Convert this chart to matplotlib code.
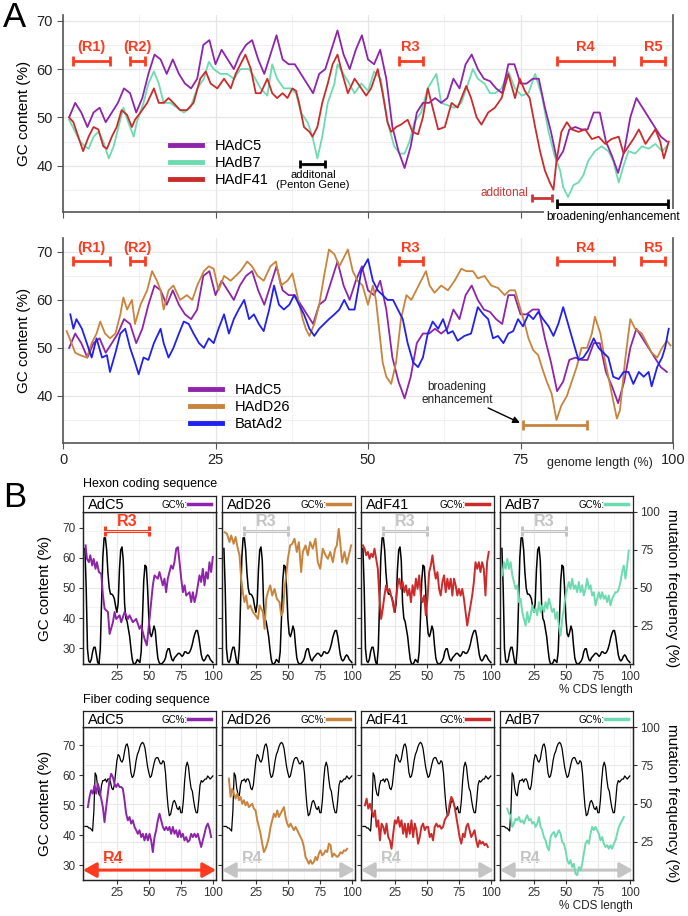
import numpy as np
import matplotlib.pyplot as plt
from matplotlib.lines import Line2D
from matplotlib.ticker import FixedLocator

plt.rcParams['font.family'] = ['Liberation Sans', 'DejaVu Sans']

PURPLE = '#8e24aa'
GREEN = '#6ddbb0'
RED = '#cc2b2b'
BROWN = '#c8843c'
BLUE = '#2020f0'
RMARK = '#ff3a1f'
GREYMARK = '#c4c4c4'

# ---------------- panel A data (genome length %, GC %) ----------------
gc_c5 = [50, 53, 51, 48, 51, 52, 49, 51, 53, 56,
         55, 51, 54, 59, 63, 62, 59, 62, 59, 57,
         56, 58, 65, 66, 61, 64, 62, 60, 63, 65,
         66, 62, 59, 63, 67, 62, 61, 61, 59, 57,
         55, 59, 60, 64, 68, 63, 60, 64, 67, 62,
         61, 64, 58, 48, 43, 39.5, 44, 51, 53, 53,
         54, 53, 54, 58, 56, 61, 63, 60, 58, 57.5,
         56, 55, 61, 61, 57, 57, 58, 58, 52, 47,
         41, 43, 47.5, 48, 47.5, 47.5, 51, 51, 45, 42,
         38.5, 43, 50, 54, 52, 50, 48, 46, 45]
pos_c5 = np.arange(1, len(gc_c5) + 1)

pos_b7 = [1, 2, 2.8, 3.6, 4.2, 5, 5.8, 6.6, 7.5, 8.3, 9.1, 9.9, 10.7, 11.6, 12.1, 13.2, 14, 14.9, 15.7,
          16.5, 17.6, 18.7, 19.8, 20.9, 22, 23.1, 23.9, 24.7, 25.8, 26.9, 28, 29.1, 30.5, 31.3, 32.4,
          33.5, 34.3, 35.1, 36.2, 37.3, 38.2, 39, 40.1, 40.9, 41.7, 42.5, 43.4, 44.5, 45,
          46.7, 47.8, 48.9, 50, 51, 52.1, 53.2, 54.3, 55.2, 56, 56.8, 57.6, 58.7, 59.8, 61.2, 62,
          63.1, 64.2, 65.3, 66.4, 67.2, 68, 69.1, 70, 70.8, 71.9, 73, 74.1, 75.2, 76.3, 77.4, 78.5,
          79.6, 80.6, 81.5, 82, 82.8, 83.7, 84.5, 85.3, 86.1, 87.2, 88.3, 89.4, 90.2, 91.1, 91.9,
          92.7, 93.8, 94.9, 96, 97.1, 98.2, 99]
gc_b7 = [49.5, 47, 45, 44, 43.5, 46, 47, 45, 41.5, 44, 48, 52, 49, 46, 49, 53, 57, 59.5, 57,
         53, 53, 52, 51, 52, 56, 58, 61.5, 60, 59, 59, 58, 60, 60, 58.5, 56,
         54.5, 61, 58, 56, 56, 55, 51, 49, 46, 41.5, 46, 53, 57, 61,
         57.5, 55, 57, 55.5, 59.5, 58, 49, 44, 42.5, 42.5, 45, 49, 51, 56, 59, 53,
         52.5, 52, 53, 57, 60, 58, 57, 55, 55, 56, 59.5, 56, 54.5, 55, 59, 54.5,
         47, 42, 39, 35.5, 33.5, 36, 36.5, 38, 41, 43, 44, 43, 41, 36.5, 40,
         43, 42.5, 44, 43.5, 44.5, 43, 44]

pos_f41 = [1, 1.7, 2.5, 3.3, 4.2, 5, 5.8, 6.6, 7.2, 8, 8.8, 9.6, 10.5, 11.3, 11.8, 12.7, 13.8, 14.9,
           15.7, 16.5, 17.3, 18.1, 19.2, 20.3, 21.4, 22.5, 23.4, 24.2, 25.3, 26.4, 27.5, 28.3, 29.1,
           29.9, 30.8, 31.6, 32.4, 33.5, 34.3, 35.1, 36, 36.8, 37.6, 38.2, 38.7, 39.5, 40.4, 40.9,
           41.7, 42.5, 43.4, 44.2, 45, 45.8, 46.7, 47.8, 48.9, 49.7, 50.5, 51.6, 52.4, 53.2, 53.8,
           54.6, 55.4, 56.5, 57.3, 58.2, 59, 59.8, 60.6, 61.5, 62.6, 63.7, 64.7, 66.1, 66.9, 67.8,
           68.6, 69.7, 70.8, 71.9, 73, 74.1, 74.9, 75.7, 76.5, 77.4, 78.2, 79, 79.8, 80.4, 80.9,
           81.7, 82.6, 83.4, 84.5, 85.6, 86.7, 87.8, 88.9, 89.9, 91.1, 91.9, 92.7, 93.5, 94.4,
           95.5, 96.3, 97.1, 97.9, 98.5, 99.3]
gc_f41 = [50, 49, 46, 43, 46, 48, 47.5, 44, 43.5, 46, 48, 51.5, 50.5, 48, 49.5, 51, 53, 56,
          53, 53, 54, 53, 51.5, 51.5, 53, 58, 59.5, 57, 56, 58, 56, 59, 61,
          63, 60, 55, 55, 58, 55, 54, 55, 54, 56, 55.5, 53, 48, 47, 46,
          48, 53, 57, 61, 63, 59, 55, 58, 56, 54.5, 56, 60, 55, 49, 47,
          48, 48.5, 49.5, 47, 46.5, 50, 56, 52, 47.5, 48, 53, 52, 56.5, 54, 50,
          48.5, 51, 52, 54, 59, 54, 58, 55.5, 54, 48, 43, 39, 36.5, 35, 41,
          47, 49, 47.5, 47, 47.5, 45.5, 46, 44.5, 45.5, 46, 42.5, 44, 45.5, 47.5,
          44.5, 46, 47.5, 45, 41.5, 45]

pos_d26 = [0.6, 1.4, 2, 2.8, 3.9, 4.7, 5.5, 6.1, 6.9, 7.7, 8.6, 9.4, 9.9, 10.5, 11.3, 11.8, 12.7,
           13.8, 14.6, 15.4, 16, 16.5, 17.3, 18.1, 19.2, 20.3, 21.2, 22, 23.1, 23.9, 24.7, 25.5,
           26.4, 27.5, 28.3, 29.1, 30.2, 31, 31.9, 32.9, 34, 34.9, 35.7, 36.8, 37.6, 38.4, 39.3,
           39.8, 40.4, 41.2, 42, 42.8, 43.6, 44.5, 45.3, 46.1, 46.7, 47.5, 48.3, 49.1, 50, 50.8,
           51.3, 51.9, 52.4, 53, 53.8, 54.6, 55.4, 56.3, 57.1, 57.9, 58.7, 59.5, 60.1, 60.9, 62,
           63.1, 64.2, 65.3, 66.1, 67.2, 68, 69.1, 70.2, 71.3, 72.4, 73.2, 74.1, 74.9, 75.7, 76.3,
           77.1, 77.9, 78.5, 79.3, 80.1, 80.9, 81.7, 82.6, 83.4, 84.2, 85, 85.9, 86.7, 87.2, 88.1,
           88.9, 89.4, 90.2, 90.8, 91.3, 92.2, 93, 93.8, 94.9, 95.7, 96.5, 97.4, 98.2, 99, 99.6]
gc_d26 = [53.5, 51, 49, 48.5, 48, 51, 53, 55.5, 53, 52, 53, 57, 60.5, 58, 60, 55, 59,
          62, 66, 64, 62, 58, 62, 63, 60, 61, 60, 63, 66, 67, 66.5, 62,
          65, 64, 65, 66, 68, 67, 65, 64, 67, 68, 63, 64, 65.5, 61, 56,
          54, 52.5, 55, 59, 65, 70.5, 69.5, 67, 69, 70.5, 66, 64, 63, 59, 63,
          60, 53, 47, 44, 42.5, 47, 56, 61, 60, 62, 64, 66, 63, 61.5, 63,
          62, 64, 66.5, 66, 66, 64.5, 65, 63, 62.5, 61, 62, 62, 58.5, 55, 52,
          49.5, 48.5, 46, 43, 40.5, 35, 38, 40, 43, 46, 50, 50, 53, 56.5, 53,
          47, 44, 39, 35.3, 37, 48, 56, 54, 53, 51, 49, 48, 50, 51.5, 50.5]

pos_bat = [1.2, 1.7, 2.2, 3.1, 3.9, 4.7, 5.5, 6.4, 7.2, 7.7, 8.6, 9.4, 10.2, 11, 11.8, 12.4, 13.2,
           14, 14.9, 16, 16.5, 17.3, 18.1, 19, 19.8, 20.6, 21.4, 22.3, 23.1, 23.9, 24.7, 25.5,
           26.4, 27.2, 28, 28.8, 29.7, 30.5, 31.3, 32.1, 32.9, 33.8, 34.6, 35.4, 36.2, 37.1, 37.9,
           38.7, 39.5, 40.4, 41.2, 42, 42.8, 43.6, 44.5, 45.3, 46.1, 46.9, 47.8, 48.9, 50, 50.8,
           51.6, 52.4, 53.2, 54.1, 54.9, 55.7, 56.5, 57.4, 58.2, 59, 59.8, 60.6, 61.5, 62.3, 63.1,
           63.9, 64.7, 65.8, 66.9, 68, 68.9, 69.7, 70.5, 71.3, 72.2, 73, 73.8, 74.6, 75.4, 76.3,
           77.1, 77.9, 78.7, 79.6, 80.4, 81.2, 82, 82.8, 83.7, 84.5, 85.3, 86.1, 87, 87.8, 88.6,
           89.4, 90.2, 91.1, 91.9, 92.7, 93.5, 94.4, 95.2, 96, 96.5, 97.4, 98.2, 98.7, 99.3]
gc_bat = [57, 54, 56, 54, 51, 48, 52, 48, 48.5, 45, 49, 53, 54, 50, 47, 44.5, 48,
          47.5, 51, 54, 51, 48, 50, 53, 55.5, 55, 53, 51, 50, 52, 51, 54,
          57, 53, 56, 58, 60, 56, 57, 55, 53.5, 58, 63, 59, 58, 59, 61,
          59, 57, 54, 52.5, 54, 55, 56, 57, 58, 60, 58, 58, 66, 68.5, 64,
          62, 61, 60, 60, 58, 56, 51, 47, 46, 48, 53, 55.5, 54, 56, 53,
          53.5, 51.5, 52.5, 53, 58.5, 57, 56, 52, 52.5, 51, 53, 53.5, 56, 54.5, 57,
          56, 57.5, 56, 54.5, 52.5, 55, 58.5, 55, 51, 47.5, 48, 49.5, 52, 50, 49,
          48, 44, 43.5, 45, 45, 42.5, 45, 44, 45, 42, 46, 48, 50, 54]

# regions (genome %)
region_names = ['(R1)', '(R2)', 'R3', 'R4', 'R5']
region_start = [1.6, 11.0, 55.0, 81.0, 94.7]
region_end = [7.7, 13.5, 59.0, 90.3, 98.7]

# ---------------- panel B data (% CDS length) ----------------
mut_pos = np.arange(0, 101)
mut_hexon = [76, 50, 10, 2, 1, 3, 8, 11, 11, 6,
             1, 0, 10, 40, 70, 83, 83, 75, 60, 50,
             46, 46, 45, 43, 38, 34, 40, 62, 75, 77,
             68, 40, 30, 28, 23, 18, 10, 3, 0, 0,
             1, 3, 2, 1, 8, 30, 55, 65, 64, 50,
             30, 20, 18, 21, 25, 22, 12, 4, 1, 0,
             0, 1, 2, 4, 8, 10, 10, 6, 3, 2,
             4, 5, 6, 7, 7, 6, 5, 6, 8, 8,
             7, 7, 8, 10, 13, 17, 20, 22, 22, 18,
             12, 6, 3, 2, 3, 5, 6, 5, 3, 2,
             1]
mut_fiber = [35, 35, 35, 34, 34, 33, 32, 45, 70, 68,
             60, 56, 55, 62, 65, 65, 66, 64, 66, 66,
             64, 60, 59, 62, 70, 78, 82, 81, 78, 77,
             79, 84, 88, 89, 86, 78, 70, 67, 68, 72,
             78, 82, 84, 87, 89, 90, 89, 86, 80, 74,
             70, 67, 68, 72, 76, 79, 80, 80, 78, 76,
             76, 78, 77, 70, 58, 48, 42, 43, 47, 51,
             52, 50, 47, 46, 48, 44, 44, 52, 65, 74,
             77, 74, 66, 60, 58, 52, 47, 44, 44, 52,
             62, 65, 64, 65, 66, 66, 68, 67, 66, 67,
             68]

hex_c5_x = [0.5, 1.6, 3.1, 4.2, 5.7, 6.8, 8.3, 9.4, 10.9, 12.8, 14.1, 15.4, 18, 19.3, 21.9, 23.2,
            24.5, 27.1, 28.4, 31, 33.6, 34.9, 37.5, 40.1, 42.7, 44, 46.6, 48.4, 50.5, 51.8, 53.1,
            54.4, 57, 58.3, 60.9, 62.2, 63.5, 64.8, 66.1, 67.4, 68.8, 70, 71.4, 72.7, 74, 75.3,
            76.6, 77.9, 79.2, 81.8, 83.1, 84.4, 85.7, 87, 89.6, 90.9, 92.2, 93.5, 94.8, 96.1,
            97.4, 98.7, 100]
hex_c5_y = [64.2, 59.7, 58.6, 60.9, 57.5, 59.7, 56.4, 58.6, 55.3, 54.7, 47.5, 43.1, 42, 34.7,
            38.6, 42, 39.7, 40.9, 38.6, 42, 39.7, 40.9, 38.6, 39.7, 36.4, 37.5, 33.1, 30.9, 39.7,
            45.3, 50.9, 54.2, 53.1, 55.3, 50.9, 53.1, 48.6, 53.1, 55.3, 57.5, 56.4, 58.6, 63.1,
            63.6, 58.6, 53.1, 48.6, 50.9, 47.5, 48.6, 45.3, 48.6, 45.3, 47.5, 54.2, 52, 56.4,
            50.9, 55.3, 53.1, 58.6, 55.3, 60.3]
hex_d26_x = [0.5, 2.3, 4.4, 5.7, 7.6, 9.1, 10.9, 12.2, 13.5, 14.8, 16.1, 17.4, 18.8, 20.6, 22.7,
             24.7, 26.6, 27.9, 30.5, 31.8, 33.1, 34.4, 36.2, 37.8, 39.6, 41.4, 43.5, 44.8, 46.1,
             47.4, 48.7, 50, 51.8, 53.4, 55.2, 57, 58.6, 60.4, 61.7, 63.8, 65.6, 67.4, 69.5, 71.6,
             73.4, 75.3, 77.3, 79.4, 81.3, 83.1, 85.2, 87, 88.3, 89.8, 90.9, 92.4, 94.3, 96.1,
             97.7, 99.5]
hex_d26_y = [68.6, 68.1, 65.3, 67.5, 64.7, 67, 63.1, 60.9, 53.1, 48.6, 45.3, 47.5, 43.1, 44.2, 42,
             40.9, 39.7, 44.2, 42, 36.4, 46.4, 48.6, 50.9, 47.5, 49.7, 46.4, 45.3, 40.9, 42, 49.7,
             54.2, 59.7, 64.2, 64.7, 66.4, 62, 65.3, 55.3, 62, 64.2, 60.9, 65.3, 63.1, 66.4, 58.6,
             56.4, 63.1, 60.9, 59.7, 62, 58.6, 63.1, 64.2, 69.7, 65.3, 58.6, 62, 58.1, 60.9, 64.2]
# the following series were read at even steps along the CDS
hex_f41_y = [64.2, 63.1, 60.9, 62, 59.7, 61.4, 60.3, 63.1, 59.7, 56.4, 46.4, 39.7, 43.1, 47.5, 50.9,
             48.6, 49.7, 47.5, 45.3, 42, 46.4, 50.9, 53.1, 49.7, 52, 48.6, 50.9, 47.5, 49.7, 45.3,
             50.9, 47.5, 53.1, 49.7, 54.2, 47.5, 45.3, 47.5, 40.9, 46.4, 55.3, 57.5, 60.9, 56.4,
             53.1, 55.3, 49.7, 47.5, 52, 54.2, 48.6, 53.1, 49.7, 53.1, 47.5, 53.1, 50.9, 47.5,
             49.7, 47.5, 49.7, 46.4, 42, 37.5, 40.9, 44.2, 47.5, 52, 58.6, 56.4, 58.6, 55.3, 58.6,
             56.4, 47.5, 58.6, 62]
hex_f41_x = np.linspace(0, 98.4, len(hex_f41_y))
hex_b7_y = [54.2, 58.6, 56.4, 59.7, 56.4, 58.6, 54.2, 52, 49.7, 50.9, 45.3, 46.4, 42, 39.7, 37.5,
            42, 38.6, 40.9, 44.2, 42, 43.1, 40.9, 45.3, 42, 44.2, 42, 45.3, 43.1, 46.4, 44.2, 42,
            43.1, 39.7, 42, 37.5, 34.2, 39.7, 43.1, 47.5, 49.7, 52, 49.7, 53.1, 49.7, 50.9, 48.6,
            52, 48.6, 50.9, 47.5, 49.7, 53.1, 49.7, 50.9, 47.5, 48.6, 44.2, 46.4, 48.6, 46.4, 48.6,
            46.4, 47.5, 45.3, 47.5, 44.2, 46.4, 47.5, 48.6, 48.6, 49.7, 52, 55.3, 57.5, 53.1, 57.5,
            62.5]
hex_b7_x = np.linspace(0.3, 99.2, len(hex_b7_y))

fib_c5_y = [49.3, 52.7, 54.9, 53.8, 56.6, 53.8, 57.1, 54.9, 52.1, 49.3, 44.3, 49.3, 53.8, 58.2,
            60.4, 59.3, 57.1, 56, 57.1, 56, 56, 55.4, 51.6, 47.1, 44.9, 46, 43.8, 44.9, 42.7,
            41.6, 40.4, 41.6, 39.3, 40.4, 38.2, 40.4, 38.2, 40.4, 38.2, 34.3, 39.3, 41.6, 44.9,
            47.1, 44.9, 42.7, 41.6, 42.7, 41.6, 42.7, 40.4, 42.7, 40.4, 41.6, 39.3, 41.6, 39.3,
            40.4, 38.2, 39.3, 37.7, 38.2, 40.4, 39.3, 40.4, 39.3, 40.4, 38.2, 36, 38.2, 40.4, 42.7,
            43.8, 42.1, 39.3]
fib_c5_x = np.linspace(2.3, 98.7, len(fib_c5_y))
fib_d26_y = [58.8, 52.7, 55.4, 53.8, 52.1, 53.8, 51.6, 52.7, 50.4, 51.6, 49.9, 51, 49.3, 49.9,
             50.4, 48.8, 48.2, 44.9, 42.7, 40.4, 37.1, 34.3, 35.4, 37.1, 39.3, 42.7, 44.9, 47.1,
             46, 48.2, 46, 47.1, 48.2, 49.3, 46, 43.8, 42.7, 43.8, 42.7, 41.6, 42.7, 41.6, 40.4,
             39.3, 38.2, 36, 32.7, 31.6, 30.4, 31.6, 30.4, 31, 32.7, 31.6, 33.8, 34.9, 33.2, 33.8,
             34.9, 34.3, 37.1, 36.6, 32.7, 33.8, 33.2, 32.7, 33.2, 34.3, 33.8, 34.9, 34.7, 35.4]
fib_d26_x = np.linspace(3.9, 96.4, len(fib_d26_y))
fib_f41_y = [49.9, 52.1, 48.8, 50.4, 48.2, 46, 48.2, 42.7, 44.9, 38.2, 43.8, 42.7, 40.4, 43.8,
             39.3, 38.2, 35.4, 40.4, 44.9, 43.8, 46, 42.7, 44.9, 40.4, 43.8, 39.3, 43.8, 40.4,
             44.9, 39.3, 43.8, 41.6, 37.1, 39.3, 42.7, 43.8, 41.6, 42.7, 42.7, 39.3, 40.4, 38.2,
             42.7, 43.8, 42.7, 43.2, 42.1, 42.7, 44.9, 46, 46.6, 50.4, 52.7, 51.6, 49.3, 46, 42.7,
             39.3, 37.1, 40.4, 39.3, 42.7, 43.8, 41.6, 39.3, 40.4, 41.6, 38.2, 36, 38.2, 37.1,
             37.7, 36.6, 37.1, 36]
fib_f41_x = np.linspace(1.6, 97.7, len(fib_f41_y))
fib_b7_y = [48.8, 47.1, 46.6, 42.7, 43.8, 45.4, 44.9, 46, 44.3, 44.9, 43.8, 45.4, 46.6, 44.9,
            45.4, 43.8, 44.3, 42.7, 43.8, 46, 42.7, 41.6, 39.3, 38.2, 36, 34.9, 39.3, 40.4, 41,
            39.3, 40.4, 41.6, 40.4, 37.7, 37.1, 34.9, 31.6, 30.4, 31.6, 29.3, 30.4, 27.1, 26.6,
            29.3, 28.2, 30.4, 33.8, 37.1, 38.2, 37.1, 40.4, 42.7, 41.6, 42.7, 41.6, 40.4, 38.2,
            39.3, 37.1, 36, 36.6, 35.4, 36.6, 35.4, 37.1, 38.2, 40.4, 42.7, 43.8, 44.9, 46]
fib_b7_x = np.linspace(4.2, 95.3, len(fib_b7_y))

facet_names = ['AdC5', 'AdD26', 'AdF41', 'AdB7']
facet_colors = [PURPLE, BROWN, RED, GREEN]

# ---------------- figure ----------------
W, H = 688, 916
fig = plt.figure(figsize=(W / 100, H / 100), dpi=100)


def box(x0, y0, x1, y1):
    return [x0 / W, 1 - y1 / H, (x1 - x0) / W, (y1 - y0) / H]


def bracket(ax, x1, x2, y, color, lw=2.0, cap=7, clip=True):
    ax.plot([x1, x2], [y, y], color=color, lw=lw, solid_capstyle='butt', clip_on=clip)
    ax.plot([x1, x2], [y, y], ls='none', marker='|', ms=cap, mew=lw, color=color, clip_on=clip)


def style_a(ax, ylim, xlabels):
    ax.set_xlim(0, 100)
    ax.set_ylim(*ylim)
    ax.set_xticks([0, 25, 50, 75, 100])
    ax.set_yticks([40, 50, 60, 70])
    ax.xaxis.set_minor_locator(FixedLocator([12.5, 37.5, 62.5, 87.5]))
    ax.yaxis.set_minor_locator(FixedLocator([35, 45, 55, 65]))
    ax.grid(which='major', color='#e6e6e6', lw=0.9)
    ax.grid(which='minor', color='#efefef', lw=0.7)
    ax.set_axisbelow(True)
    ax.spines['top'].set_visible(False)
    for s in ['left', 'bottom', 'right']:
        ax.spines[s].set_color('#555555')
        ax.spines[s].set_linewidth(1.2)
    ax.tick_params(which='minor', length=0)
    ax.tick_params(which='major', length=4, color='#555555', labelsize=10.5,
                   labelcolor='#222222', labelbottom=xlabels)


# ---- A top ----
axA = fig.add_axes(box(63, 15, 673, 212))
style_a(axA, (30.4, 71.2), False)
axA.plot(pos_b7, gc_b7, color=GREEN, lw=1.3)
axA.plot(pos_c5, gc_c5, color=PURPLE, lw=1.3)
axA.plot(pos_f41, gc_f41, color=RED, lw=1.3)
for name, a, b in zip(region_names, region_start, region_end):
    bracket(axA, a, b, 61.7, RMARK)
    axA.text((a + b) / 2, 64.6, name, color=RMARK, fontsize=10.5, fontweight='bold',
             ha='center', va='center')
hA = [Line2D([], [], color=c, lw=3.5) for c in (PURPLE, GREEN, RED)]
axA.legend(hA, ['HAdC5', 'HAdB7', 'HAdF41'], loc='center left', bbox_to_anchor=(0.175, 0.249),
           frameon=False, fontsize=10.5, handlelength=2.2, handletextpad=0.9,
           labelspacing=0.22, borderpad=0, borderaxespad=0)
bracket(axA, 38.9, 43.0, 40.4, 'black', cap=6)
axA.text(41.0, 39.2, 'additonal\n(Penton Gene)', fontsize=8, ha='center', va='top', linespacing=1.05)
axA.text(76.3, 34.4, 'additonal', fontsize=8.5, color='#c83737', ha='right', va='center')
bracket(axA, 76.9, 80.2, 33.4, '#c83737', cap=6)
bracket(axA, 81.0, 99.2, 32.0, 'black', cap=7)
axA.text(90.2, 29.3, 'broadening/enhancement', fontsize=8.5, ha='center', va='center',
         clip_on=False, bbox=dict(fc='white', ec='none', pad=1.5))
axA.set_ylabel('GC content (%)', fontsize=11, labelpad=4)

# ---- A bottom ----
axB = fig.add_axes(box(63, 238, 673, 443))
style_a(axB, (30.2, 72.9), True)
axB.plot(pos_c5, gc_c5, color=PURPLE, lw=1.3)
axB.plot(pos_d26, gc_d26, color=BROWN, lw=1.3)
axB.plot(pos_bat, gc_bat, color=BLUE, lw=1.3)
for name, a, b in zip(region_names, region_start, region_end):
    bracket(axB, a, b, 68.1, RMARK)
    axB.text((a + b) / 2, 70.9, name, color=RMARK, fontsize=10.5, fontweight='bold',
             ha='center', va='center')
hB = [Line2D([], [], color=c, lw=3.5) for c in (PURPLE, BROWN, BLUE)]
axB.legend(hB, ['HAdC5', 'HAdD26', 'BatAd2'], loc='center left', bbox_to_anchor=(0.208, 0.176),
           frameon=False, fontsize=10.5, handlelength=2.2, handletextpad=0.9,
           labelspacing=0.22, borderpad=0, borderaxespad=0)
axB.text(64.6, 40.6, 'broadening\nenhancement', fontsize=8.5, ha='center', va='center',
         linespacing=1.1, color='#222222')
axB.annotate('', xy=(74.9, 34.4), xytext=(69.7, 37.5),
             arrowprops=dict(arrowstyle='-|>', color='black', lw=1.0, shrinkA=0, shrinkB=0))
bracket(axB, 75.4, 85.9, 33.9, BROWN, cap=7)
axB.set_ylabel('GC content (%)', fontsize=11, labelpad=4)
axB.text(0.88, -0.1, 'genome length (%)', transform=axB.transAxes, fontsize=9,
         ha='center', va='center', color='#222222')

fig.text(3 / W, 1 - 1 / H, 'A', fontsize=25, va='top', ha='left')
fig.text(3 / W, 1 - 481 / H, 'B', fontsize=25, va='top', ha='left')


# ---- B facets: GC axis on the left, mutation frequency axis (with the grid) on the right ----
def facet_row(y_strip, y_top, y_bot, xs, ys, mut, ylim, kind):
    for i in range(4):
        left = 83 + i * 139
        ax = fig.add_axes(box(left, y_top, left + 133, y_bot))
        ax.set_xlim(-1.5, 102.5)
        ax.set_ylim(*ylim)
        ax.set_xticks([25, 50, 75, 100])
        ax.set_yticks([30, 40, 50, 60, 70])
        ax.xaxis.set_minor_locator(FixedLocator([12.5, 37.5, 62.5, 87.5]))
        ax.grid(axis='x', which='major', color='#e8e8e8', lw=0.8)
        ax.grid(axis='x', which='minor', color='#f1f1f1', lw=0.6)
        ax.set_axisbelow(True)
        ax.tick_params(which='minor', length=0)
        ax.tick_params(which='major', length=3, color='#333333', labelsize=8.5,
                       labelcolor='#333333', left=(i == 0), labelleft=(i == 0), pad=2)
        for s in ax.spines.values():
            s.set_color('#222222')
            s.set_linewidth(0.9)

        axm = ax.twinx()
        axm.set_ylim(0, 100)
        axm.set_yticks([25, 50, 75, 100])
        axm.yaxis.set_minor_locator(FixedLocator([12.5, 37.5, 62.5, 87.5]))
        axm.grid(axis='y', which='major', color='#e8e8e8', lw=0.8)
        axm.grid(axis='y', which='minor', color='#f1f1f1', lw=0.6)
        axm.set_axisbelow(True)
        axm.tick_params(which='minor', length=0)
        if i == 3:
            axm.tick_params(which='major', length=3, color='#333333', labelsize=8.5,
                            labelcolor='#333333', pad=2)
        else:
            axm.tick_params(which='major', right=False, labelright=False)
        for s in axm.spines.values():
            s.set_color('#222222')
            s.set_linewidth(0.9)
        axm.plot(mut_pos, mut, color='black', lw=1.1 if kind == 'hexon' else 0.9)
        axm.plot(xs[i], ys[i], color=facet_colors[i], lw=1.4, transform=ax.transData)
        axm.set_ylim(0, 100)

        col = RMARK if i == 0 else GREYMARK
        if kind == 'hexon':
            bracket(ax, 15.6, 50, 69.0, col, lw=2.2, cap=7)
            ax.text(32.8, 72.2, 'R3', color=col, fontsize=11.5, fontweight='bold',
                    ha='center', va='center')
        else:
            ax.annotate('', xy=(-1.5, 28.3), xytext=(102.5, 28.3),
                        arrowprops=dict(arrowstyle='<|-|>,head_length=0.8,head_width=0.45',
                                        color=col, lw=2.2, shrinkA=0, shrinkB=0))
            ax.text(22, 32.2, 'R4', color=col, fontsize=11.5, fontweight='bold',
                    ha='center', va='center')

        sax = fig.add_axes(box(left, y_strip, left + 133, y_top))
        sax.set_xlim(0, 1)
        sax.set_ylim(0, 1)
        sax.set_xticks([])
        sax.set_yticks([])
        for s in sax.spines.values():
            s.set_color('#222222')
            s.set_linewidth(0.9)
        sax.text(0.04, 0.45, facet_names[i], fontsize=10.5, va='center', ha='left')
        sax.text(0.785, 0.45, 'GC%:', fontsize=7, va='center', ha='right')
        sax.plot([0.79, 0.965], [0.5, 0.5], color=facet_colors[i], lw=2.5)


facet_row(496, 512, 664, [hex_c5_x, hex_d26_x, hex_f41_x, hex_b7_x],
          [hex_c5_y, hex_d26_y, hex_f41_y, hex_b7_y], mut_hexon, (24.7, 75.3), 'hexon')
facet_row(711, 727, 880, [fib_c5_x, fib_d26_x, fib_f41_x, fib_b7_x],
          [fib_c5_y, fib_d26_y, fib_f41_y, fib_b7_y], mut_fiber, (25.0, 76.0), 'fiber')

fig.text(83 / W, 1 - 490 / H, 'Hexon coding sequence', fontsize=9, va='bottom', ha='left')
fig.text(83 / W, 1 - 706 / H, 'Fiber coding sequence', fontsize=9, va='bottom', ha='left')
fig.text(633 / W, 1 - 690 / H, '% CDS length', fontsize=8.5, va='center', ha='right', color='#222222')
fig.text(633 / W, 1 - 906 / H, '% CDS length', fontsize=8.5, va='center', ha='right', color='#222222')
for yc in (588, 803):
    fig.text(45 / W, 1 - yc / H, 'GC content (%)', fontsize=11, rotation=90, va='center', ha='center')
    fig.text(672 / W, 1 - yc / H, 'mutation frequency (%)', fontsize=11, rotation=270,
             va='center', ha='center')

fig.savefig('out.png', dpi=100)
